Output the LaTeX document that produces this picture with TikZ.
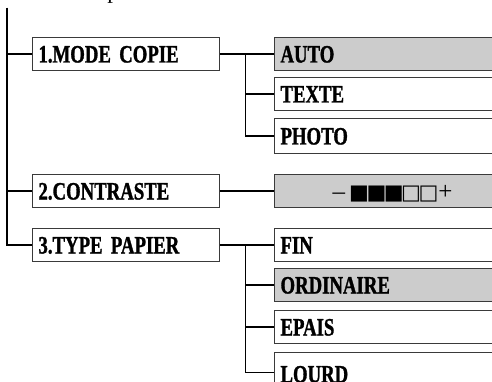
\documentclass[tikz,border=0pt]{standalone}
\usepackage{fontspec}
\setmainfont{Liberation Serif}
\newfontfamily\menufont[FakeStretch=0.75, FakeBold=1.2]{Liberation Serif}
\newfontfamily\glyphfont{DejaVu Sans}
\usetikzlibrary{positioning,calc}
\definecolor{pickgray}{HTML}{CCCCCC}
\definecolor{rimgray}{HTML}{3A3A3A}

\tikzset{
  menubox/.style={draw=rimgray, line width=1pt, anchor=north west, inner xsep=6pt, inner ysep=0pt,
    text height=25pt, text depth=8pt, align=left,
    font=\menufont\bfseries\fontsize{25}{25}\selectfont},
  leftbox/.style={menubox, text width=175pt},
  rightbox/.style={menubox, text width=240pt},
  pick/.style={fill=pickgray},
  wire/.style={line width=1.3pt}
}
\newcommand{\sq}[1]{{\glyphfont\fontsize{21}{24}\selectfont #1}}

\begin{document}
\begin{tikzpicture}[x=1pt, y=-1pt]
\clip (0,0) rectangle (492,382);
% cut-off line of text above
\node[font=\fontsize{23}{23}\selectfont, anchor=base, inner sep=0pt] (cut) at (113,-1) {p};
% first level
\node[leftbox] (mode) at (32,37) {1.MODE COPIE};
\node[leftbox] (contraste) at (32,174) {2.CONTRASTE};
\node[leftbox] (papier) at (32,228) {3.TYPE PAPIER};
% second level
\node[rightbox, pick] (auto) at (274,37) {AUTO};
\node[rightbox] (texte) at (274,77) {TEXTE};
\node[rightbox, minimum height=35pt] (photo) at (274,118) {PHOTO};
\node[rightbox, pick] (niveau) at (274,174)
  {\hspace*{52pt}\normalfont –\,\sq{■\kern-2.5pt■\kern-2.5pt■\kern-2.5pt□\kern-2.5pt□}+};
\node[rightbox] (fin) at (274,228) {FIN};
\node[rightbox, pick] (ordinaire) at (274,268) {ORDINAIRE};
\node[rightbox] (epais) at (274,310) {EPAIS};
\node[rightbox, text depth=5pt, minimum height=40pt] (lourd) at (274,352) {LOURD};
% trunk
\coordinate (top) at (7,8);
\draw[wire] (top) |- (mode.west);
\draw[wire] (top) |- (contraste.west);
\draw[wire] (top) |- (papier.west);
% branches
\draw[wire] (mode.east) -- (auto.west);
\coordinate (fork1) at ($(mode.east)!0.47!(auto.west)$);
\draw[wire] (fork1) |- (texte.west);
\draw[wire] (fork1) |- (photo.west);
\draw[wire] (contraste.east) -- (niveau.west);
\draw[wire] (papier.east) -- (fin.west);
\coordinate (fork2) at ($(papier.east)!0.47!(fin.west)$);
\draw[wire] (fork2) |- (ordinaire.west);
\draw[wire] (fork2) |- (epais.west);
\draw[wire] (fork2) |- (lourd.west);
\end{tikzpicture}
\end{document}
